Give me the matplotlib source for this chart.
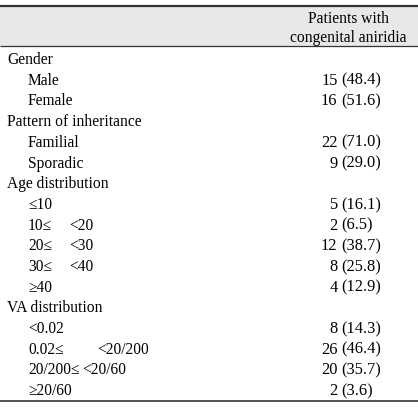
import matplotlib.pyplot as plt

plt.rcParams['font.family'] = ['Liberation Serif', 'DejaVu Serif']

header = ["Patients with", "congenital aniridia"]

# labels; "|" splits the two halves of a range label
row_labels = ["Gender", "Male", "Female",
              "Pattern of inheritance", "Familial", "Sporadic",
              "Age distribution", "≤10", "10≤|<20", "20≤|<30", "30≤|<40", "≥40",
              "VA distribution", "<0.02", "0.02≤|<20/200", "20/200≤|<20/60", "≥20/60"]
row_indent = [0, 1, 1, 0, 1, 1, 0, 1, 1, 1, 1, 1, 0, 1, 1, 1, 1]
counts = [None, 15, 16, None, 22, 9, None, 5, 2, 12, 8, 4, None, 8, 26, 20, 2]
percents = [None, 48.4, 51.6, None, 71.0, 29.0, None, 16.1, 6.5, 38.7, 25.8, 12.9,
            None, 14.3, 46.4, 35.7, 3.6]

W, H = 418, 409
fig = plt.figure(figsize=(W / 100, H / 100), dpi=100)
ax = fig.add_axes([0, 0, 1, 1])
ax.set_xlim(0, W)
ax.set_ylim(H, 0)
ax.axis('off')

fs = 11.2
fs_num = 11.8
line_col = '#333333'

# header band and rules
ax.fill_between([0, W], 6, 46, color='#e8e8e8', lw=0)
ax.plot([0, W], [6, 6], color=line_col, lw=1.6, solid_capstyle='butt')
ax.plot([0, W], [46, 46], color=line_col, lw=0.9, solid_capstyle='butt')
ax.plot([0, W], [401, 401], color=line_col, lw=1.2, solid_capstyle='butt')

ax.text(348, 19, header[0], fontsize=fs, ha='center', va='center')
ax.text(348, 38, header[1], fontsize=fs, ha='center', va='center')

y0, dy = 60, 20.7
for i, lab in enumerate(row_labels):
    y = y0 + i * dy
    x = 28 if row_indent[i] else 7
    parts = lab.split('|')
    ax.text(x, y, parts[0], fontsize=fs, ha='left', va='center')
    if len(parts) > 1:
        x2 = 97 if lab.startswith('0.02') else (82 if lab.startswith('20/200') else 69)
        ax.text(x2, y, parts[1], fontsize=fs, ha='left', va='center')
    if counts[i] is not None:
        ax.text(337.5, y, str(counts[i]), fontsize=fs_num, ha='right', va='center')
        ax.text(341.5, y, f"({percents[i]:.1f})", fontsize=fs_num, ha='left', va='center')

fig.savefig('out.png', dpi=100)
